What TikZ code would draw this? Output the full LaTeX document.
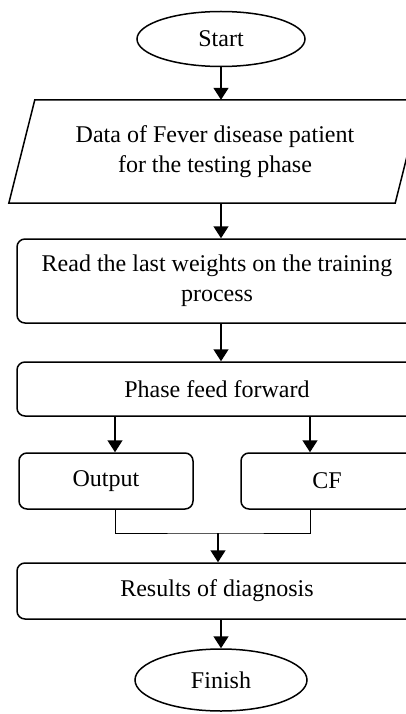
\documentclass[tikz,border=0pt]{standalone}
\usepackage{fontspec}
\setmainfont{Liberation Serif}
\usetikzlibrary{shapes.geometric,arrows.meta}
\begin{document}
\begin{tikzpicture}[x=1pt,y=-1pt,
	box/.style={draw, line width=1.5pt, rounded corners=8pt, align=center, inner sep=0pt},
	term/.style={draw, ellipse, line width=1.5pt, inner sep=0pt},
	arr/.style={line width=1.5pt, -{Triangle[length=12pt,width=15pt]}},
	every node/.style={font=\fontsize{24}{30}\selectfont}]
	\useasboundingbox (0,0) rectangle (406,714);
	\node[term, minimum width=168pt, minimum height=55pt] (start) at (221,39) {Start};
	\node[align=center, inner sep=0pt, minimum width=412pt, minimum height=103pt] (data) at (215,151.5) {Data of Fever disease patient\\for the testing phase};
	\draw[line width=1.5pt] ([xshift=26pt]data.north west) -- (data.north east) -- ([xshift=-26pt]data.south east) -- (data.south west) -- cycle;
	\node[box, minimum width=400pt, minimum height=84pt] (read) at (217,281) {Read the last weights on the training\\process};
	\node[box, minimum width=400pt, minimum height=54pt] (phase) at (217,389) {Phase feed forward};
	\node[box, minimum width=174pt, minimum height=56pt] (out) at (106,481) {Output};
	\node[box, minimum width=172pt, minimum height=56pt] (cf) at (327,481) {CF};
	\node[box, minimum width=400pt, minimum height=56pt] (res) at (217,591) {Results of diagnosis};
	\node[term, minimum width=172pt, minimum height=62pt] (finish) at (221,680) {Finish};
	\coordinate (lj) at (115,0);
	\coordinate (rj) at (310,0);
	\coordinate (merge) at (218,533);
	\draw[arr] (start) -- (start |- data.north);
	\draw[arr] (start |- data.south) -- (start |- read.north);
	\draw[arr] (start |- read.south) -- (start |- phase.north);
	\draw[arr] (lj |- phase.south) -- (lj |- out.north);
	\draw[arr] (rj |- phase.south) -- (rj |- cf.north);
	\draw[line width=0.8pt] (lj |- out.south) |- (merge) -| (rj |- cf.south);
	\draw[arr] (merge) -- (merge |- res.north);
	\draw[arr] (start |- res.south) -- (finish);
\end{tikzpicture}
\end{document}
